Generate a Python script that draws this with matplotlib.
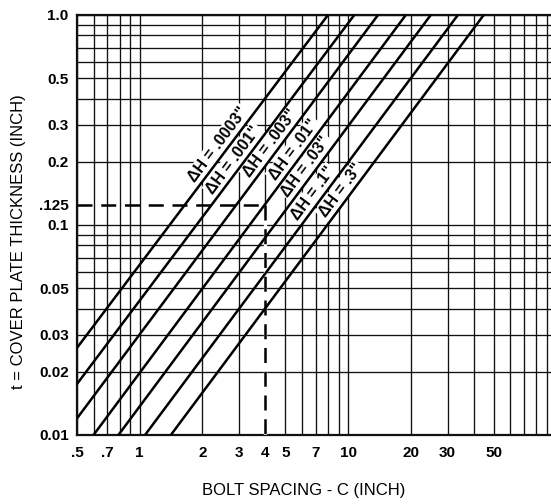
import numpy as np
import matplotlib
matplotlib.use("Agg")
import matplotlib.pyplot as plt

# ---- data ----
dh_labels = ['ΔH = .0003"', 'ΔH = .001"', 'ΔH = .003"', 'ΔH = .01"',
             'ΔH = .03"', 'ΔH = .1"', 'ΔH = .3"']
# upper end of every line (t = 1.0) : bolt spacing C
top_c = [8.0, 10.7, 13.9, 18.9, 24.9, 33.6, 44.7]
top_t = [1.0, 1.0, 1.0, 1.0, 1.0, 1.0, 1.0]
# lower end of every line
low_c = [0.5, 0.5, 0.5, 0.60, 0.79, 1.06, 1.41]
low_t = [0.026, 0.0175, 0.012, 0.01, 0.01, 0.01, 0.01]

example_c = 4.0
example_t = 0.125

x_tick_vals = [0.5, 0.7, 1, 2, 3, 4, 5, 7, 10, 20, 30, 50]
x_tick_labels = ['.5', '.7', '1', '2', '3', '4', '5', '7', '10', '20', '30', '50']
y_tick_vals = [0.01, 0.02, 0.03, 0.05, 0.1, 0.125, 0.2, 0.3, 0.5, 1.0]
y_tick_labels = ['0.01', '0.02', '0.03', '0.05', '0.1', '.125', '0.2', '0.3', '0.5', '1.0']

# ---- layout ----
label_t = [0.226, 0.192, 0.230, 0.215, 0.178, 0.133, 0.137]

plt.rcParams['font.family'] = ['Liberation Sans', 'DejaVu Sans']

fig = plt.figure(figsize=(5.51, 5.04), dpi=100)
ax = fig.add_axes([77/551, 69/504, 1 - 77/551, 420/504])
ax.set_xscale('log')
ax.set_yscale('log')
ax.set_xlim(0.5, 94)
ax.set_ylim(0.01, 1.0)
ax.xaxis.remove_overlapping_locs = False
ax.yaxis.remove_overlapping_locs = False

# grid (full log grid)
xgrid = [k * 10.0**d for d in (-1, 0, 1) for k in range(1, 10)]
xgrid = [v for v in xgrid if 0.5 <= v <= 94]
ygrid = [k * 10.0**d for d in (-2, -1) for k in range(1, 10)] + [1.0]
ax.set_xticks(xgrid, minor=True)
ax.set_yticks(ygrid, minor=True)
ax.set_xticks(x_tick_vals)
ax.set_xticklabels(x_tick_labels)
ax.set_yticks(y_tick_vals)
ax.set_yticklabels(y_tick_labels)
ax.xaxis.set_minor_formatter(matplotlib.ticker.NullFormatter())
ax.yaxis.set_minor_formatter(matplotlib.ticker.NullFormatter())
ax.grid(which='minor', color='#111111', linewidth=0.95)
ax.grid(which='major', visible=False)
ax.tick_params(which='both', length=0)
ax.tick_params(axis='x', which='major', pad=8, labelsize=11)
ax.tick_params(axis='y', which='major', pad=6, labelsize=11)
for lab in ax.get_xticklabels() + ax.get_yticklabels():
    lab.set_fontweight('bold')
ax.set_axisbelow(True)

for s in ['top', 'left', 'bottom']:
    ax.spines[s].set_linewidth(1.6)
    ax.spines[s].set_color('#111111')
ax.spines['right'].set_visible(False)

# diagonal lines
for c0, t0, c1, t1 in zip(low_c, low_t, top_c, top_t):
    ax.plot([c0, c1], [t0, t1], color='black', linewidth=1.8, zorder=5,
            solid_capstyle='butt', clip_on=True)

# labels along lines
ang = np.degrees(np.arctan2(
    (np.log10(top_t[0]) - np.log10(low_t[3])) * 210,
    (np.log10(top_c[3]) - np.log10(low_c[3])) * 209))
perp = np.radians(ang + 90)
off = 9.5 * 72 / 100  # points
for i, lbl in enumerate(dh_labels):
    lc0, lt0 = np.log10(low_c[i]), np.log10(low_t[i])
    lc1, lt1 = np.log10(top_c[i]), np.log10(top_t[i])
    lt = np.log10(label_t[i])
    lc = lc0 + (lt - lt0) * (lc1 - lc0) / (lt1 - lt0)
    ax.annotate(lbl, xy=(10**lc, 10**lt), xytext=(off*np.cos(perp), off*np.sin(perp)),
                textcoords='offset points', rotation=ang, rotation_mode='anchor',
                ha='center', va='center', fontsize=11.5, fontweight='bold', zorder=4,
                bbox=dict(boxstyle='square,pad=0.1', fc='white', ec='none'))

# example dashed lines (white underlay hides the grid line below the dashes)
ax.plot([example_c, example_c], [example_t, 0.01], color='white', linewidth=2.4,
        zorder=4.5, solid_capstyle='butt')
ax.plot([0.5, example_c], [example_t, example_t], color='black', linewidth=1.8,
        dashes=(6, 3.5), zorder=6)
ax.plot([example_c, example_c], [example_t, 0.01], color='black', linewidth=1.8,
        dashes=(6, 3.5), zorder=6)

fig.text(304/551, 1 - 490/504, 'BOLT SPACING - C (INCH)', ha='center', va='center',
         fontsize=12)
fig.text(19/551, 1 - 242/504, 't = COVER PLATE THICKNESS (INCH)', ha='center',
         va='center', rotation=90, fontsize=12)

fig.savefig('out.png', dpi=100)
